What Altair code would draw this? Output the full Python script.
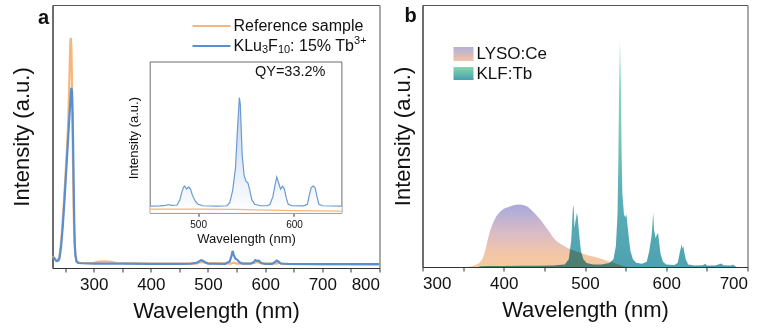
import altair as alt
import pandas as pd

# ---------------- Panel a : main excitation/emission curves ----------------
a_ref_wl = [228, 232, 236, 240, 244, 248, 252, 255, 257, 259, 260, 261, 262, 263, 264, 265, 266, 268, 270, 275,
            300, 310, 320, 330, 340, 400, 480, 488, 495, 540, 545, 550, 580, 586, 592, 620, 625, 630, 700, 800]
a_ref_val = [4.5, 3.5, 2.8, 4.0, 12, 25, 40, 53, 67, 85, 87.5, 84, 72, 55, 38, 22, 12, 5, 2.5, 1.9,
             2.0, 2.4, 2.5, 2.3, 1.9, 1.7, 1.7, 2.3, 2.0, 1.7, 2.0, 1.7, 1.8, 2.3, 1.8, 1.7, 2.0, 1.6, 1.5, 1.4]

a_tb_wl = [228, 230, 232, 234, 236, 238, 240, 243, 246, 249, 252, 255, 258, 260, 261, 262, 263, 264, 265, 266,
           267, 268, 270, 273, 280, 300, 350, 400, 450, 470, 480, 485, 488, 491, 495, 500, 530, 538, 541, 543,
           545, 548, 551, 555, 560, 575, 580, 583, 586, 589, 593, 600, 612, 617, 620, 623, 627, 640, 700, 750, 800]
a_tb_val = [3.8, 4.0, 3.5, 2.8, 2.6, 2.8, 3.5, 8, 16, 26, 37, 48, 59, 66, 68.5, 67, 60, 48, 32, 18,
            9, 5, 2.5, 1.9, 1.8, 1.7, 1.7, 1.6, 1.6, 1.7, 2.0, 2.6, 3.0, 2.8, 2.2, 1.7, 1.6, 2.5, 4.5, 6.5,
            5.0, 3.5, 3.2, 2.2, 1.7, 1.7, 2.2, 3.0, 2.7, 2.8, 1.9, 1.6, 1.6, 2.2, 2.8, 2.5, 1.7, 1.6, 1.5, 1.5, 1.5]

# ---------------- Panel a : inset (emission) ----------------
in_tb_wl = [450, 460, 466, 469, 472, 478, 481, 483, 485, 486, 488, 490, 492, 494, 497, 500, 505, 520, 530, 533,
            536, 539, 541, 543, 544, 545, 546, 548, 550, 552, 554, 556, 559, 565, 572, 575, 578, 580, 582, 584,
            586, 588, 590, 592, 594, 598, 610, 614, 616, 618, 620, 622, 624, 626, 630, 650]
in_tb_val = [4.8, 4.9, 5.2, 5.8, 5.2, 5.5, 9, 14, 17.5, 18, 16, 17.4, 16, 12, 8, 6, 5, 4.8, 5, 7,
             15, 30, 55, 76.4, 72, 55, 38, 25, 21.3, 20, 15, 9, 6, 5, 5, 6, 11, 18, 24, 20,
             16, 18, 16, 10, 6, 5, 4.9, 6, 12, 17, 18, 17, 11, 6, 5, 4.8]
in_ref_wl = [450, 500, 540, 560, 600, 650]
in_ref_val = [2.8, 2.8, 2.6, 2.2, 1.8, 1.4]
inset_x_domain = [450, 650]
inset_y_domain = [0, 100]

# ---------------- Panel b ----------------
lyso_wl = [350, 358, 362, 366, 370, 374, 377, 380, 383, 387, 391, 396, 400, 404, 410, 415, 420, 425, 430, 435,
           440, 445, 450, 455, 461, 466, 472, 478, 486, 494, 502, 510, 518, 526, 534, 540, 545, 550, 553]
lyso_val = [0, 0.1, 0.4, 0.9, 1.5, 3.2, 6, 10, 13.7, 17, 19.5, 21.3, 22.2, 22.7, 23.4, 23.8, 23.9, 23.6, 22.9, 21.5,
            19.8, 18.1, 16, 13.9, 11.2, 9.6, 8.4, 7.3, 6.3, 5.4, 4.6, 4.0, 3.3, 2.5, 1.7, 1.1, 0.6, 0.1, 0]

klf_wl = [370, 380, 400, 420, 440, 460, 475, 480, 483, 485, 486, 487, 488, 490, 491, 493, 495, 498, 502, 510,
          520, 530, 535, 538, 540, 541, 542, 543, 544, 545, 546, 548, 550, 551, 552, 554, 556, 559, 563, 570,
          576, 579, 582, 584, 585, 587, 588, 590, 591, 593, 596, 600, 610, 614, 617, 619, 620, 621, 622, 624,
          627, 635, 645, 648, 650, 660, 668, 670, 680, 682, 685, 687]
klf_val = [0.3, 0.4, 0.4, 0.5, 0.5, 0.6, 1.0, 3, 10, 22, 23.7, 15, 17, 20.7, 19, 12, 6, 3, 1.5, 1.0,
           1.0, 1.5, 3, 8, 20, 40, 70, 86.5, 72, 45, 28, 20, 19, 20, 17, 11, 6, 3, 1.6, 1.2,
           2, 6, 12, 20.7, 14, 11, 12, 13, 10, 5, 2, 1, 0.8, 1.5, 6, 8.7, 7, 8, 6, 3,
           1, 0.6, 0.7, 1.2, 0.6, 0.6, 1.3, 0.7, 0.6, 1.0, 0.3, 0]

FONT = "Liberation Sans"
INK = "#111111"
BLUE = "#5a8fcf"
ORANGE = "#f6b77c"

df_a_ref = pd.DataFrame({"wl": a_ref_wl, "v": a_ref_val})
df_a_tb = pd.DataFrame({"wl": a_tb_wl, "v": a_tb_val})
df_in_tb = pd.DataFrame({"wl": in_tb_wl, "v": in_tb_val})
df_in_ref = pd.DataFrame({"wl": in_ref_wl, "v": in_ref_val})
df_lyso = pd.DataFrame({"wl": lyso_wl, "v": lyso_val})
df_klf = pd.DataFrame({"wl": klf_wl, "v": klf_val})
df_frame = pd.DataFrame({"wl": [inset_x_domain[0]], "wl2": [inset_x_domain[1]],
                         "v": [inset_y_domain[0]], "v2": [inset_y_domain[1]]})
dummy = pd.DataFrame({"k": [0]})

W_A, H_A = 327, 263
W_B, H_B = 325, 262

def txt(s, x, y, size=16, align="left", weight="normal", baseline="middle", font=FONT):
    return alt.Chart(dummy).mark_text(text=s, fontSize=size, font=font, align=align, baseline=baseline,
                                      fontWeight=weight, color=INK).encode(x=alt.value(x), y=alt.value(y))

# ---- panel a main layer
xa = alt.X("wl:Q", scale=alt.Scale(domain=[228, 800], nice=False, zero=False),
           axis=alt.Axis(values=list(range(250, 801, 50)),
                         labelExpr="datum.value % 100 === 0 ? datum.label : ''",
                         tickSize=4, grid=False, title="Wavelength (nm)", labelPadding=4, titlePadding=8))
ya = alt.Y("v:Q", scale=alt.Scale(domain=[0, 100], nice=False),
           axis=alt.Axis(labels=False, ticks=False, grid=False, title="Intensity (a.u.)", titlePadding=19))

ref_line = alt.Chart(df_a_ref).mark_line(color=ORANGE, strokeWidth=2.2).encode(x=xa, y=ya)
tb_line = alt.Chart(df_a_tb).mark_line(color=BLUE, strokeWidth=2.2).encode(x=xa, y=ya)

leg_a = [
    alt.Chart(dummy).mark_rule(color=ORANGE, strokeWidth=2.2).encode(x=alt.value(140), x2=alt.value(178), y=alt.value(21)),
    alt.Chart(dummy).mark_rule(color=BLUE, strokeWidth=2.2).encode(x=alt.value(140), x2=alt.value(178), y=alt.value(41)),
    txt("Reference sample", 181, 21),
    txt("KLu", 181, 41),
    txt("3", 209.5, 45, size=11),
    txt("F", 215.6, 41),
    txt("10", 225.4, 45, size=11),
    txt(": 15% Tb", 237.6, 41),
    txt("3+", 301.6, 36, size=11),
    txt("a", -9, 13, size=20, align="center", weight="bold"),
]
main_a = alt.layer(ref_line, tb_line, *leg_a)

# ---- panel a inset layer
xi_scale = alt.Scale(domain=inset_x_domain, range=[97.7, 289.4], nice=False, zero=False)
yi_scale = alt.Scale(domain=inset_y_domain, range=[208.3, 57], nice=False)
xi_axis = alt.Axis(orient="bottom", offset=-54.7, values=[500, 600], tickSize=3, domain=False, grid=False,
                   labelFontSize=10, labelPadding=3, title="Wavelength (nm)", titleFontSize=13, titlePadding=3)
yi_axis = alt.Axis(orient="left", offset=-97.7, labels=False, ticks=False, domain=False, grid=False,
                   title="Intensity (a.u.)", titleFontSize=13, titlePadding=10)
xi = alt.X("wl:Q", scale=xi_scale, axis=xi_axis)
yi = alt.Y("v:Q", scale=yi_scale, axis=yi_axis)

frame = alt.Chart(df_frame).mark_rect(fill="white", stroke="#6d6d6d", strokeWidth=1).encode(
    x=xi, x2="wl2:Q", y=yi, y2="v2:Q")
in_fill = alt.Chart(df_in_tb).mark_area(
    fill=alt.Gradient(gradient="linear", x1=0, x2=0, y1=0, y2=1,
                      stops=[alt.GradientStop(color="#a9c6e8", offset=0),
                             alt.GradientStop(color="#ffffff", offset=1)]),
    opacity=0.8).encode(x=xi, y=yi)
in_ref = alt.Chart(df_in_ref).mark_line(color=ORANGE, strokeWidth=1.2).encode(x=xi, y=yi)
in_tb = alt.Chart(df_in_tb).mark_line(color="#6b9bd1", strokeWidth=1.2).encode(x=xi, y=yi)
qy = txt("QY=33.2%", 237.7, 67, size=14.5, align="center")
inset = alt.layer(frame, in_fill, in_ref, in_tb, qy)

panel_a = alt.layer(main_a, inset).resolve_scale(x="independent", y="independent").properties(width=W_A, height=H_A)

# ---- panel b
xb = alt.X("wl:Q", scale=alt.Scale(domain=[300, 700], nice=False, zero=False),
           axis=alt.Axis(values=list(range(300, 701, 50)),
                         labelExpr="datum.value % 100 === 0 ? datum.label : ''",
                         tickSize=4, grid=False, title="Wavelength (nm)", labelPadding=4, titlePadding=8))
yb = alt.Y("v:Q", scale=alt.Scale(domain=[0, 100], nice=False),
           axis=alt.Axis(labels=False, ticks=False, grid=False, title="Intensity (a.u.)", titlePadding=8.5))

lyso_grad = alt.Gradient(gradient="linear", x1=0, x2=0, y1=0, y2=1,
                         stops=[alt.GradientStop(color="#a8a9dc", offset=0),
                                alt.GradientStop(color="#d9bcc6", offset=0.45),
                                alt.GradientStop(color="#f3c6a6", offset=0.8),
                                alt.GradientStop(color="#f7c9a0", offset=1)])
klf_grad = alt.Gradient(gradient="linear", x1=0, x2=0, y1=0, y2=1,
                        stops=[alt.GradientStop(color="#8fe3b3", offset=0),
                               alt.GradientStop(color="#6cc6ae", offset=0.4),
                               alt.GradientStop(color="#4ea7b0", offset=0.7),
                               alt.GradientStop(color="#3f9aab", offset=1)])

lyso = alt.Chart(df_lyso).mark_area(fill=lyso_grad).encode(x=xb, y=yb)
klf = alt.Chart(df_klf).mark_area(fill=klf_grad, opacity=0.92, blend="multiply").encode(x=xb, y=yb)

leg_b = [
    alt.Chart(dummy).mark_rect(fill=alt.Gradient(gradient="linear", x1=0, x2=0, y1=0, y2=1,
                                                 stops=[alt.GradientStop(color="#b1b0da", offset=0),
                                                        alt.GradientStop(color="#f4c3a2", offset=1)])).encode(
        x=alt.value(31), x2=alt.value(51), y=alt.value(42), y2=alt.value(56)),
    alt.Chart(dummy).mark_rect(fill=alt.Gradient(gradient="linear", x1=0, x2=0, y1=0, y2=1,
                                                 stops=[alt.GradientStop(color="#86d8ac", offset=0),
                                                        alt.GradientStop(color="#479fae", offset=1)])).encode(
        x=alt.value(31), x2=alt.value(51), y=alt.value(62), y2=alt.value(75)),
    txt("LYSO:Ce", 54, 49, size=17),
    txt("KLF:Tb", 54, 69, size=17),
    txt("b", -12, 11, size=20, align="center", weight="bold"),
]
panel_b = alt.layer(lyso, klf, *leg_b).properties(width=W_B, height=H_B)

chart = alt.hconcat(panel_a, panel_b, spacing=43, bounds="flush").configure_view(
    stroke="#555555", strokeWidth=1
).configure_axis(
    labelFont=FONT, titleFont=FONT, labelColor=INK, titleColor=INK, titleFontWeight="normal",
    labelFontSize=17, titleFontSize=22, domainColor="#333333", tickColor="#333333"
).properties(padding={"left": 9.5, "top": 4, "right": 2, "bottom": 2}, background="white")

chart.save("out.html", embed_options={"renderer": "svg", "actions": False})
